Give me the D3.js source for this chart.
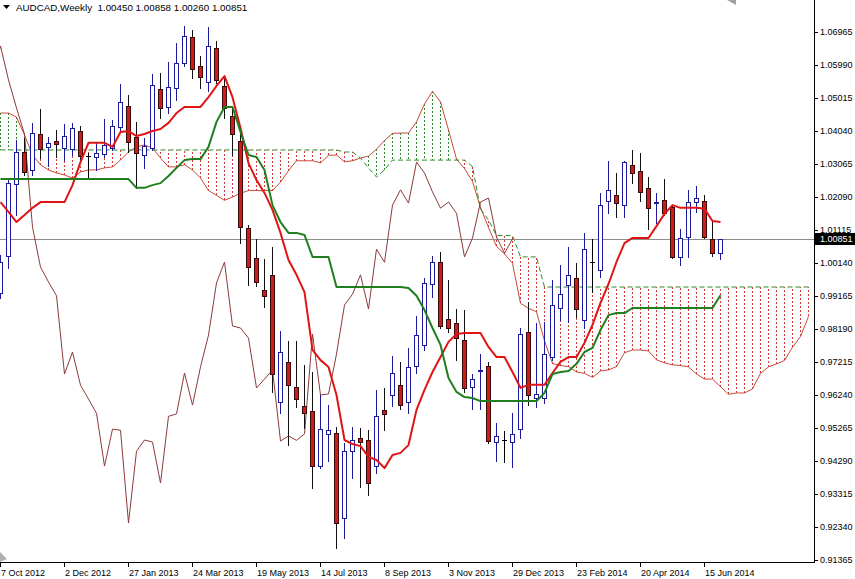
<!DOCTYPE html>
<html><head><meta charset="utf-8">
<script src="https://cdn.jsdelivr.net/npm/d3@7"></script>
<style>
body{margin:0;background:#fff;}
svg{display:block;}
text{font-family:"Liberation Sans",Arial,sans-serif;font-size:9px;fill:#000;}
</style>
</head><body>
<svg id="c" width="855" height="579"></svg>
<script>
// ---------- DATA ----------
const titleText = "AUDCAD,Weekly  1.00450 1.00858 1.00260 1.00851";
const lastPrice = 1.00851;
const xTickLabels = ["7 Oct 2012","2 Dec 2012","27 Jan 2013","24 Mar 2013","19 May 2013","14 Jul 2013","8 Sep 2013","3 Nov 2013","29 Dec 2013","23 Feb 2014","20 Apr 2014","15 Jun 2014"];
const xTickStep = 8; // weeks between labels
const yTicks = [1.06965,1.05990,1.05015,1.04040,1.03065,1.02090,1.01115,1.00140,0.99165,0.98190,0.97215,0.96240,0.95265,0.94290,0.93315,0.92340,0.91365];

// weekly candles, index 0 = week of 7 Oct 2012
const open = [0.9925,1.0035,1.0247,1.0342,1.0289,1.0395,1.0356,1.0374,1.0354,1.0351,
1.0404,1.0330,1.0327,1.0336,1.0354,1.0416,1.0478,1.0386,1.0333,1.0354,
1.0528,1.0475,1.0531,1.0605,1.0682,1.0596,1.0549,1.0649,1.0537,1.0448,
1.0374,1.0117,1.0029,0.9934,0.9979,0.9603,0.9721,0.9647,0.9591,0.9577,
0.9414,0.9509,0.9511,0.9260,0.9458,0.9497,0.9491,0.9414,0.9580,0.9624,
0.9653,0.9603,0.9710,0.9772,0.9952,1.0017,0.9848,0.9836,0.9786,0.9647,
0.9695,0.9710,0.9485,0.9490,0.9485,0.9523,0.9810,0.9615,0.9615,0.9736,
0.9881,0.9949,0.9970,0.9845,1.0016,0.9993,1.0197,1.0215,1.0185,1.0303,
1.0286,1.0235,1.0191,1.0200,1.0179,1.0032,1.0091,1.0194,1.0197,1.0085,
1.00450];
const high = [1.0037,1.0265,1.0377,1.0383,1.0428,1.0469,1.0386,1.0407,1.0425,1.0428,
1.0419,1.0339,1.0368,1.0439,1.0436,1.0543,1.0510,1.0431,1.0383,1.0572,
1.0575,1.0608,1.0664,1.0714,1.0702,1.0625,1.0711,1.0670,1.0567,1.0475,
1.0398,1.0126,1.0085,1.0026,1.0061,0.9813,0.9783,0.9783,0.9712,0.9692,
0.9624,0.9594,0.9529,0.9482,0.9529,0.9527,0.9520,0.9639,0.9645,0.9739,
0.9721,0.9763,0.9857,0.9970,1.0035,1.0046,0.9964,0.9878,0.9875,0.9686,
0.9745,0.9721,0.9541,0.9517,0.9570,0.9822,0.9899,0.9836,0.9840,0.9964,
1.0008,1.0061,1.0014,1.0103,1.0085,1.0220,1.0315,1.0280,1.0315,1.0348,
1.0339,1.0268,1.0220,1.0262,1.0185,1.0114,1.0230,1.0241,1.0215,1.0135,
1.00858];
const low = [0.9910,0.9999,1.0156,1.0274,1.0274,1.0324,1.0300,1.0327,1.0318,1.0333,
1.0312,1.0268,1.0289,1.0327,1.0348,1.0401,1.0342,1.0235,1.0295,1.0348,
1.0442,1.0457,1.0496,1.0596,1.0561,1.0531,1.0522,1.0546,1.0442,1.0333,
1.0073,0.9949,0.9946,0.9884,0.9633,0.9571,0.9476,0.9588,0.9527,0.9349,
0.9408,0.9429,0.9171,0.9201,0.9379,0.9352,0.9329,0.9393,0.9520,0.9591,
0.9582,0.9570,0.9689,0.9757,0.9914,0.9822,0.9810,0.9727,0.9633,0.9582,
0.9582,0.9482,0.9429,0.9426,0.9411,0.9497,0.9594,0.9588,0.9600,0.9727,
0.9845,0.9840,0.9854,0.9822,0.9928,0.9973,1.0161,1.0150,1.0150,1.0250,
1.0197,1.0114,1.0132,1.0156,1.0029,1.0008,1.0032,1.0164,1.0088,1.0035,
1.00260];
const close = [1.0017,1.0250,1.0342,1.0283,1.0398,1.0351,1.0368,1.0366,1.0389,1.0413,
1.0330,1.0330,1.0339,1.0363,1.0419,1.0490,1.0371,1.0339,1.0360,1.0540,
1.0472,1.0534,1.0605,1.0685,1.0587,1.0564,1.0655,1.0555,1.0472,1.0395,
1.0120,1.0002,0.9958,0.9917,0.9686,0.9751,0.9653,0.9612,0.9570,0.9414,
0.9523,0.9520,0.9246,0.9458,0.9491,0.9485,0.9364,0.9561,0.9568,0.9689,
0.9594,0.9707,0.9801,0.9955,1.0017,0.9828,0.9822,0.9792,0.9645,0.9671,
0.9698,0.9488,0.9503,0.9490,0.9509,0.9804,0.9624,0.9627,0.9745,0.9890,
0.9922,0.9979,0.9878,1.0055,1.0016,1.0185,1.0230,1.0191,1.0312,1.0280,
1.0224,1.0176,1.0194,1.0161,1.0032,1.0088,1.0194,1.0206,1.0091,1.0043,
1.00851];

// Ichimoku lines
const tenkan = [1.0194,1.0165,1.0135,1.0156,1.0177,1.0194,1.0194,1.0194,1.0194,1.0244,
1.0312,1.0369,1.0369,1.0369,1.0357,1.0401,1.0404,1.0389,1.0395,1.0404,
1.0410,1.0428,1.0457,1.0475,1.0475,1.0475,1.0504,1.0537,1.0566,1.0504,
1.0413,1.0309,1.0259,1.0221,1.0171,1.0103,1.0023,0.9979,0.9928,0.9757,
0.9727,0.9707,0.9624,0.9491,0.9479,0.9473,0.9441,0.9432,0.9408,0.9447,
0.9453,0.9476,0.9580,0.9639,0.9692,0.9736,0.9781,0.9804,0.9807,0.9807,
0.9807,0.9766,0.9736,0.9736,0.9692,0.9645,0.9654,0.9654,0.9654,0.9689,
0.9722,0.9736,0.9736,0.9778,0.9831,0.9896,0.9952,1.0017,1.0073,1.0088,
1.0088,1.0088,1.0123,1.0159,1.0185,1.0177,1.0177,1.0177,1.0174,1.0138,
1.0135];
const kijun = [1.0262,1.0262,1.0262,1.0262,1.0262,1.0262,1.0262,1.0262,1.0262,1.0262,
1.0262,1.0262,1.0262,1.0262,1.0262,1.0262,1.0262,1.0236,1.0236,1.0244,
1.0250,1.0271,1.0295,1.0318,1.0321,1.0321,1.0357,1.0431,1.0475,1.0475,
1.0401,1.0333,1.0327,1.0289,1.0185,1.0135,1.0103,1.0103,1.0097,1.0032,
1.0032,1.0032,0.9943,0.9943,0.9943,0.9943,0.9943,0.9943,0.9943,0.9943,
0.9943,0.9940,0.9917,0.9875,0.9822,0.9772,0.9674,0.9633,0.9618,0.9615,
0.9606,0.9606,0.9606,0.9606,0.9606,0.9606,0.9606,0.9606,0.9630,0.9686,
0.9692,0.9695,0.9716,0.9751,0.9763,0.9816,0.9860,0.9866,0.9866,0.9881,
0.9881,0.9881,0.9881,0.9881,0.9881,0.9881,0.9881,0.9881,0.9881,0.9881,
0.9919];
// Senkou spans as displayed (already shifted 26 weeks ahead), index 0 = 7 Oct 2012
const spanA = [1.0457,1.0457,1.0445,1.0392,1.0333,1.0304,1.0289,1.0280,1.0274,1.0265,
1.0283,1.0289,1.0289,1.0295,1.0298,1.0318,1.0342,1.0357,1.0363,1.0354,
1.0324,1.0298,1.0298,1.0304,1.0289,1.0265,1.0228,1.0214,1.0199,1.0209,
1.0220,1.0228,1.0228,1.0228,1.0228,1.0253,1.0287,1.0316,1.0316,1.0316,
1.0310,1.0332,1.0333,1.0313,1.0316,1.0324,1.0330,1.0350,1.0376,1.0397,
1.0398,1.0398,1.0431,1.0484,1.0521,1.0490,1.0407,1.0321,1.0293,1.0255,
1.0178,1.0119,1.0063,1.0041,1.0013,0.9895,0.9880,0.9870,0.9784,0.9717,
0.9711,0.9708,0.9692,0.9688,0.9676,0.9695,0.9698,0.9708,0.9749,0.9757,
0.9757,0.9754,0.9728,0.9719,0.9713,0.9711,0.9707,0.9686,0.9671,0.9671,
0.9649,0.9626,0.9630,0.9630,0.9642,0.9688,0.9707,0.9716,0.9726,0.9765,
0.9797,0.9856];
const spanB = [1.0348,1.0348,1.0348,1.0348,1.0348,1.0348,1.0348,1.0348,1.0348,1.0348,
1.0348,1.0348,1.0348,1.0348,1.0348,1.0348,1.0348,1.0348,1.0348,1.0348,
1.0348,1.0348,1.0348,1.0348,1.0348,1.0348,1.0348,1.0348,1.0348,1.0348,
1.0348,1.0348,1.0348,1.0348,1.0348,1.0348,1.0348,1.0348,1.0348,1.0348,
1.0348,1.0348,1.0348,1.0342,1.0342,1.0324,1.0295,1.0268,1.0289,1.0318,
1.0318,1.0318,1.0318,1.0318,1.0318,1.0318,1.0318,1.0318,1.0318,1.0299,
1.0174,1.0141,1.0095,1.0095,1.0095,1.0032,1.0032,1.0032,0.9943,0.9943,
0.9943,0.9943,0.9943,0.9943,0.9943,0.9943,0.9943,0.9943,0.9943,0.9943,
0.9943,0.9943,0.9943,0.9943,0.9943,0.9943,0.9943,0.9943,0.9943,0.9943,
0.9943,0.9943,0.9943,0.9943,0.9943,0.9943,0.9943,0.9943,0.9943,0.9943,
0.9943,0.9943];
const chikouShift = 26;

// ---------- DRAW ----------
const svg = d3.select("#c");
const axisX = 814, axisY = 562;
const xs = d3.scaleLinear().domain([0, 90]).range([0, 720]);
const ys = d3.scaleLinear().domain([yTicks[yTicks.length-1], yTicks[0]]).range([560, 32]);
const px = v => Math.round(v) + 0.5;

svg.append("defs").append("clipPath").attr("id","clip")
  .append("rect").attr("x",0).attr("y",0).attr("width",axisX).attr("height",axisY);
const g = svg.append("g").attr("clip-path","url(#clip)");

// cloud verticals
const cloudIdx = d3.range(spanA.length);
g.append("g").selectAll("line").data(cloudIdx).join("line")
  .attr("x1", i => px(xs(i))).attr("x2", i => px(xs(i)))
  .attr("y1", i => ys(spanA[i])).attr("y2", i => ys(spanB[i]))
  .attr("stroke", i => spanA[i] >= spanB[i] ? "#2a8a2a" : "#d23a3a")
  .attr("stroke-width", 1).attr("stroke-dasharray", "2,2")
  .attr("shape-rendering","crispEdges");

const lineGen = arr => d3.line().x((d,i) => px(xs(i))).y(d => ys(d))(arr);

// span lines
g.append("path").attr("d", lineGen(spanA)).attr("fill","none")
  .attr("stroke","#c84a3c").attr("stroke-width",1);
g.append("path").attr("d", lineGen(spanB)).attr("fill","none")
  .attr("stroke","#2a8a2a").attr("stroke-width",1).attr("stroke-dasharray","5,3");

// price line
g.append("line").attr("x1",0).attr("x2",axisX)
  .attr("y1",px(ys(lastPrice))).attr("y2",px(ys(lastPrice)))
  .attr("stroke","#8c8c8c").attr("stroke-width",1);

// chikou span: closes displayed 26 weeks back
const chIdx = d3.range(chikouShift - 1, close.length);
const chikouPath = d3.line().x(k => px(xs(k - chikouShift))).y(k => ys(close[k]))(chIdx);
g.append("path").attr("d", chikouPath).attr("fill","none")
  .attr("stroke","#8e3a3a").attr("stroke-width",1);

// candles
const idx = d3.range(open.length);
const cg = g.append("g");
idx.forEach(i => {
  const x = Math.round(xs(i));
  const o = open[i], c = close[i];
  const bull = c > o, doji = Math.abs(c - o) < 0.00005;
  const col = doji ? "#000" : (bull ? "#1a1a9a" : "#111");
  cg.append("line").attr("x1",x+0.5).attr("x2",x+0.5)
    .attr("y1",Math.round(ys(high[i]))).attr("y2",Math.round(ys(low[i]))+1)
    .attr("stroke",col).attr("stroke-width",1).attr("shape-rendering","crispEdges");
  const yt = Math.round(ys(Math.max(o,c))), yb = Math.round(ys(Math.min(o,c)));
  if (doji) {
    cg.append("line").attr("x1",x-2).attr("x2",x+3).attr("y1",yt+0.5).attr("y2",yt+0.5)
      .attr("stroke","#000").attr("shape-rendering","crispEdges");
  } else {
    cg.append("rect").attr("x",x-2+0.5).attr("y",yt+0.5).attr("width",4).attr("height",Math.max(1,yb-yt))
      .attr("fill", bull ? "#fff" : "#cc1c1c")
      .attr("stroke", bull ? "#1a1a9a" : "#3a0a0a").attr("stroke-width",1)
      .attr("shape-rendering","crispEdges");
  }
});

// tenkan & kijun
g.append("path").attr("d", lineGen(tenkan)).attr("fill","none")
  .attr("stroke","#e01414").attr("stroke-width",2).attr("stroke-linejoin","round");
g.append("path").attr("d", lineGen(kijun)).attr("fill","none")
  .attr("stroke","#1f7f1f").attr("stroke-width",2).attr("stroke-linejoin","round");

// ---------- AXES ----------
svg.append("line").attr("x1",axisX+0.5).attr("x2",axisX+0.5).attr("y1",0).attr("y2",axisY+1)
  .attr("stroke","#000").attr("shape-rendering","crispEdges");
svg.append("line").attr("x1",0).attr("x2",axisX+1).attr("y1",axisY+0.5).attr("y2",axisY+0.5)
  .attr("stroke","#000").attr("shape-rendering","crispEdges");

const ya = svg.append("g");
yTicks.forEach(t => {
  const y = Math.round(ys(t));
  ya.append("line").attr("x1",axisX+1).attr("x2",axisX+4).attr("y1",y+0.5).attr("y2",y+0.5)
    .attr("stroke","#000").attr("shape-rendering","crispEdges");
  ya.append("text").attr("x",axisX+6).attr("y",y).attr("dy","0.35em").text(d3.format(".5f")(t));
});
// current price label
const yl = Math.round(ys(lastPrice));
svg.append("rect").attr("x",axisX+1).attr("y",yl-6).attr("width",855-axisX-1).attr("height",12).attr("fill","#000");
svg.append("text").attr("x",axisX+6).attr("y",yl).attr("dy","0.35em").style("fill","#fff")
  .text(d3.format(".5f")(lastPrice));

const xa = svg.append("g");
xTickLabels.forEach((lab,k) => {
  const x = Math.round(xs(k*xTickStep));
  xa.append("line").attr("x1",x+0.5).attr("x2",x+0.5).attr("y1",axisY+1).attr("y2",axisY+5)
    .attr("stroke","#000").attr("shape-rendering","crispEdges");
  xa.append("text").attr("x",x+1).attr("y",576).text(lab);
});

// title
svg.append("path").attr("d","M3,5 L10,5 L6.5,9 Z").attr("fill","#000");
svg.append("text").attr("x",16).attr("y",11).style("font-size","9.8px").style("white-space","pre").attr("xml:space","preserve").text(titleText);
// small chart markers
svg.append("path").attr("d","M727,0 L736,0 L736,5 Z").attr("fill","#a0a0a0");
svg.append("path").attr("d","M0,552 L7,559 L0,562 Z").attr("fill","#b0b0b0");
</script>
</body></html>
